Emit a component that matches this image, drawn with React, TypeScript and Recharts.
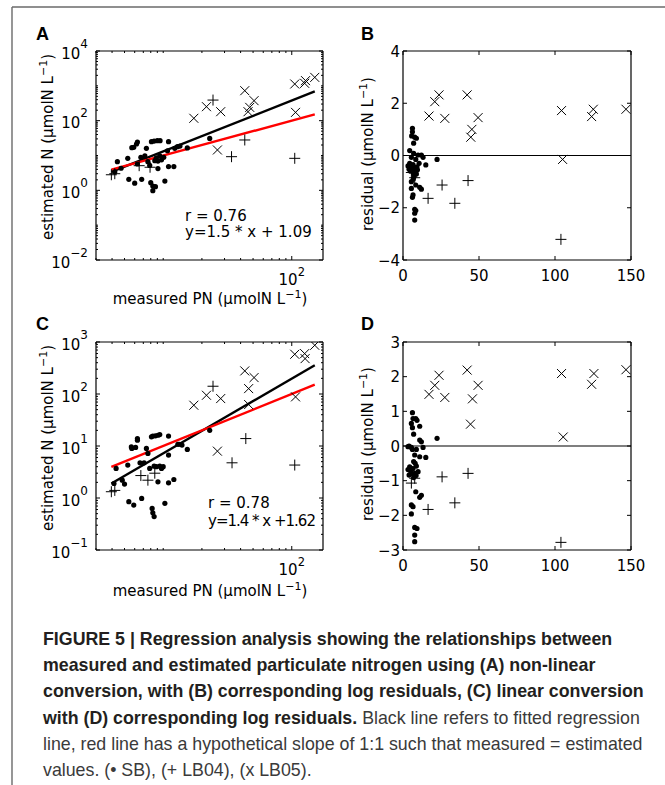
import React from 'react'
import { ReferenceLine, Scatter, ScatterChart, XAxis, YAxis } from 'recharts'

type Pt = [number, number]

// A: measured PN vs estimated N, non-linear conversion (log-log)
const aSB: Pt[] = [
  [6.3, 24.4], [6.2, 21.4], [8.1, 25], [8.5, 26], [9.0, 26.7], [9.45, 26.7], [11.0, 25],
  [5.7, 16.8], [5.9, 17.2], [7.4, 16.1], [12.3, 16.1], [12.9, 17.9], [13.5, 18.7], [15.4, 16.5],
  [23.0, 31], [10.8, 13.7], [7.2, 9.7], [6.7, 8.85], [5.3, 8.3], [4.4, 6.65], [8.85, 8.6],
  [9.4, 9.7], [10.1, 8.85], [8.6, 7.1], [9.1, 6.9], [9.7, 7.5], [7.6, 6.65], [6.3, 5.7],
  [7.85, 5.2], [9.1, 4.2], [11.0, 4.8], [12.1, 4.8], [4.7, 4.3], [4.2, 3.4], [5.4, 2.07],
  [6.0, 1.6], [6.8, 2.07], [8.0, 1.66], [8.3, 1.33], [8.7, 1.27], [8.3, 0.98], [10.3, 1.85],
]
const aLB04: Pt[] = [
  [3.95, 2.8], [4.2, 3.0], [6.5, 5.1], [7.9, 4.6], [24.4, 390], [34.0, 9.25], [43.1, 27.9], [105.5, 8.3],
]
const aLB05: Pt[] = [
  [17.3, 117], [21.7, 252], [28.0, 181], [26.4, 14.4], [43.1, 726], [45.7, 181], [47.1, 241],
  [50.9, 375], [105.5, 1130], [107, 173], [126, 1180], [128, 1410], [151, 1750],
]
const aFit: Pt[] = [[3.95, 3.4], [151, 690]]
const aUnity: Pt[] = [[3.95, 3.95], [151, 151]]

// B: residuals of A
const bSB: Pt[] = [
  [6.2, 1.04], [6.2, 0.91], [5.7, 0.75], [7.7, 0.7], [8.8, 0.66], [7.0, 0.47], [4.4, 0.19],
  [7.0, 0.08], [9.9, 0.02], [12.1, 0.02], [13.2, -0.07], [5.5, -0.07], [8.4, -0.15], [22.4, -0.15],
  [10.6, -0.3], [15.0, -0.36], [3.3, -0.4], [4.9, -0.43], [7.7, -0.45], [9.2, -0.43], [4.0, -0.53],
  [6.2, -0.56], [8.4, -0.62], [7.0, -0.71], [8.8, -0.71], [5.5, -1.0], [8.4, -1.13], [11.0, -1.22],
  [12.1, -1.29], [5.5, -1.26], [6.6, -1.51], [6.2, -1.6], [7.7, -2.06], [8.4, -2.11], [7.7, -2.21],
  [7.7, -2.47], [4.4, -0.3], [6.6, -0.35], [7.3, -0.8], [5.0, -0.6], [9.5, -0.55], [6.8, -0.9],
]
const bLB04: Pt[] = [
  [5.5, -0.65], [7.7, -0.85], [16.5, -1.64], [25.7, -1.13], [34.1, -1.83], [42.8, -0.96], [103.9, -3.21],
]
const bLB05: Pt[] = [
  [17.1, 1.51], [20.9, 2.06], [23.7, 2.32], [27.5, 1.42], [42.2, 2.32], [44.6, 0.7], [45.3, 1.0],
  [49.4, 1.45], [104.3, 1.72], [105, -0.15], [124.1, 1.49], [125.2, 1.77], [146.7, 1.77],
]

// C: measured PN vs estimated N, linear conversion (log-log)
const cSB: Pt[] = [
  [4.14, 1.9], [4.3, 3.7], [4.8, 2.2], [5.0, 1.85], [5.3, 4.3], [5.4, 0.85], [5.65, 9.6], [5.7, 9.0],
  [5.9, 0.73], [6.1, 9.4], [6.3, 13.9], [6.3, 12.9], [6.6, 4.75], [6.8, 0.98], [7.1, 4.75], [7.4, 9.0],
  [7.6, 7.2], [7.85, 3.7], [8.1, 15.0], [8.3, 15.5], [8.7, 15.7], [9.1, 16.1], [9.4, 16.6], [8.2, 0.63],
  [8.3, 0.52], [8.5, 0.44], [8.5, 4.1], [8.85, 4.0], [9.1, 2.05], [9.4, 4.1], [9.7, 3.7], [10.0, 4.0],
  [10.3, 0.79], [11.0, 1.96], [11.0, 6.7], [11.0, 15.5], [12.1, 2.27], [13.0, 10.8], [13.3, 10.8],
  [14.0, 10.4], [15.4, 8.6], [23.0, 20],
]
const cLB04: Pt[] = [
  [3.95, 1.32], [4.2, 1.4], [6.7, 2.7], [7.6, 2.2], [8.6, 3.0], [24.4, 141], [34.3, 4.75], [43.9, 13.9], [105.5, 4.3],
]
const cLB05: Pt[] = [
  [17.3, 60.8], [21.7, 94.6], [28.0, 81.7], [26.4, 7.96], [43.1, 278], [46.2, 127], [46.2, 62.7],
  [50.9, 207], [105.5, 581], [107, 88], [126, 598], [127, 479], [151, 865],
]
const cFit: Pt[] = [[3.95, 1.9], [151, 357]]
const cUnity: Pt[] = [[3.95, 3.95], [151, 151]]

// D: residuals of C
const dSB: Pt[] = [
  [6.2, 0.96], [6.6, 0.79], [8.4, 0.79], [9.2, 0.74], [5.5, 0.65], [6.2, 0.53], [11.0, 0.57],
  [7.0, 0.34], [22.4, 0.22], [4.0, 0.0], [5.5, -0.04], [6.2, -0.1], [11.0, 0.17], [12.1, 0.12],
  [13.2, -0.04], [8.8, -0.1], [7.7, -0.26], [11.0, -0.31], [15.0, -0.33], [4.4, -0.6], [3.3, -0.68],
  [5.5, -0.65], [6.6, -0.65], [8.8, -0.58], [7.7, -0.79], [9.9, -0.74], [7.0, -0.91], [4.0, -0.84],
  [8.4, -1.32], [12.1, -1.42], [11.0, -1.48], [5.5, -1.7], [6.6, -1.75], [5.5, -1.96], [7.7, -2.35],
  [9.2, -2.38], [7.7, -2.57], [7.7, -2.76], [3.3, -0.02], [7.0, -0.45], [8.0, -0.5], [6.0, -0.8],
  [8.6, -0.85], [5.0, -0.72],
]
const dLB04: Pt[] = [
  [5.5, -1.07], [7.7, -0.93], [16.5, -1.83], [25.7, -0.89], [34.1, -1.64], [42.8, -0.79], [103.9, -2.78],
]
const dLB05: Pt[] = [
  [17.1, 1.49], [20.9, 1.75], [23.7, 2.04], [27.5, 1.4], [42.2, 2.19], [44.4, 0.63], [45.7, 1.36],
  [49.4, 1.75], [104.3, 2.09], [105.4, 0.26], [124.1, 1.78], [125.6, 2.09], [146.7, 2.2],
]

// axes
const logX: [number, number] = [3, 175]
const logXMajor = [100]
const aYDomain: [number, number] = [0.01, 10000]
const aYMajor = [0.01, 1, 100, 10000]
const cYDomain: [number, number] = [0.1, 1000]
const cYMajor = [0.1, 1, 10, 100, 1000]
const resX = [0, 50, 100, 150]
const bYTicks = [-4, -2, 0, 2, 4]
const dYTicks = [-3, -2, -1, 0, 1, 2, 3]

const FONT = '"DejaVu Sans", sans-serif'
const AXIS = { stroke: '#000', strokeWidth: 1.2 }

// every n*10^k inside the domain, for the log axis minor ticks
const logTicks = ([lo, hi]: [number, number]) => {
  const out: number[] = []
  for (let k = Math.floor(Math.log10(lo)); k <= Math.ceil(Math.log10(hi)); k++)
    for (let n = 1; n < 10; n++) {
      const v = +(n * Math.pow(10, k)).toPrecision(6)
      if (v >= lo && v <= hi) out.push(v)
    }
  return out
}

const pts = (d: Pt[]) => d.map(([x, y]) => ({ x, y }))
const minus = (v: number) => (v < 0 ? `\u2212${-v}` : `${v}`)
const isMajor = (v: number, majors: number[]) => majors.some((m) => Math.abs(m - v) <= 1e-9 * Math.max(1, Math.abs(m)))

type TickProps = { x?: number; y?: number; payload?: { value: number }; span?: number; majors?: number[]; log?: boolean }

const BottomTick = ({ x = 0, y = 0, payload, span = 0, majors = [], log }: TickProps) => {
  const v = payload ? payload.value : 0
  const major = isMajor(v, majors)
  const len = major ? 4 : 2
  return (
    <g>
      <line x1={x} x2={x} y1={y} y2={y - len} stroke="#000" />
      <line x1={x} x2={x} y1={y - span} y2={y - span + len} stroke="#000" />
      {major && log && (
        <text x={x} y={y + 25} textAnchor="middle" fontSize={15} fontFamily={FONT} fill="#000">
          10<tspan dy={-9} fontSize={11.5}>{minus(Math.round(Math.log10(v)))}</tspan>
        </text>
      )}
      {major && !log && (
        <text x={x} y={y + 21} textAnchor="middle" fontSize={15} fontFamily={FONT} fill="#000">
          {minus(v)}
        </text>
      )}
    </g>
  )
}

const LeftTick = ({ x = 0, y = 0, payload, span = 0, majors = [], log }: TickProps) => {
  const v = payload ? payload.value : 0
  const major = isMajor(v, majors)
  const len = major ? 4 : 2
  return (
    <g>
      <line x1={x} x2={x + len} y1={y} y2={y} stroke="#000" />
      <line x1={x + span} x2={x + span - len} y1={y} y2={y} stroke="#000" />
      {major && log && (
        <text x={x - 8} y={y + 7.5} textAnchor="end" fontSize={15} fontFamily={FONT} fill="#000">
          10<tspan dy={-11} fontSize={12}>{minus(Math.round(Math.log10(v)))}</tspan>
        </text>
      )}
      {major && !log && (
        <text x={x - 3} y={y + 5.5} textAnchor="end" fontSize={15} fontFamily={FONT} fill="#000">
          {minus(v)}
        </text>
      )}
    </g>
  )
}

const Dot = (p: any) => <circle cx={p.cx} cy={p.cy} r={2.6} fill="#000" />
const Plus = (p: any) => (
  <path d={`M${p.cx - 5.5},${p.cy}h11M${p.cx},${p.cy - 5.5}v11`} stroke="#000" strokeWidth={1} fill="none" />
)
const Cross = (p: any) => (
  <path d={`M${p.cx - 4.5},${p.cy - 4.5}l9,9M${p.cx - 4.5},${p.cy + 4.5}l9,-9`} stroke="#000" strokeWidth={1} fill="none" />
)

type LogProps = {
  top: number; chartH: number; plotTop: number; plotH: number
  yDomain: [number, number]; yMajor: number[]
  sb: Pt[]; lb04: Pt[]; lb05: Pt[]; fit: Pt[]; unity: Pt[]
}

const LogPanel = ({ top, chartH, plotTop, plotH, yDomain, yMajor, sb, lb04, lb05, fit, unity }: LogProps) => {
  const plotW = 227
  return (
    <div style={{ position: 'absolute', left: 0, top }}>
      <ScatterChart width={340} height={chartH} margin={{ top: plotTop, right: 17, bottom: chartH - plotTop - plotH - 30, left: 36 }}>
        <XAxis type="number" dataKey="x" scale="log" domain={logX} allowDataOverflow ticks={logTicks(logX)} interval={0}
          tickSize={0} tickMargin={0} tickLine={false} axisLine={AXIS} height={30}
          tick={<BottomTick span={plotH} majors={logXMajor} log />} />
        <YAxis type="number" dataKey="y" scale="log" domain={yDomain} allowDataOverflow ticks={logTicks(yDomain)} interval={0}
          tickSize={0} tickMargin={0} tickLine={false} axisLine={AXIS} width={60}
          tick={<LeftTick span={plotW} majors={yMajor} log />} />
        <ReferenceLine y={yDomain[1]} stroke="#000" strokeWidth={1.2} />
        <ReferenceLine x={logX[1]} stroke="#000" strokeWidth={1.2} />
        <Scatter data={pts(sb)} shape={Dot} isAnimationActive={false} />
        <Scatter data={pts(lb04)} shape={Plus} isAnimationActive={false} />
        <Scatter data={pts(lb05)} shape={Cross} isAnimationActive={false} />
        <ReferenceLine segment={pts(fit)} stroke="#000" strokeWidth={2.4} />
        <ReferenceLine segment={pts(unity)} stroke="#ff0000" strokeWidth={2.4} />
      </ScatterChart>
    </div>
  )
}

type ResProps = {
  top: number; chartH: number; plotTop: number; plotH: number
  yTicks: number[]; sb: Pt[]; lb04: Pt[]; lb05: Pt[]
}

const ResidualPanel = ({ top, chartH, plotTop, plotH, yTicks, sb, lb04, lb05 }: ResProps) => {
  const plotW = 228
  const yDomain: [number, number] = [yTicks[0], yTicks[yTicks.length - 1]]
  return (
    <div style={{ position: 'absolute', left: 340, top }}>
      <ScatterChart width={325} height={chartH} margin={{ top: plotTop, right: 34, bottom: chartH - plotTop - plotH - 30, left: 3 }}>
        <XAxis type="number" dataKey="x" domain={[0, 150]} allowDataOverflow ticks={resX} interval={0}
          tickSize={0} tickMargin={0} tickLine={false} axisLine={AXIS} height={30}
          tick={<BottomTick span={plotH} majors={resX} />} />
        <YAxis type="number" dataKey="y" domain={yDomain} allowDataOverflow ticks={yTicks} interval={0}
          tickSize={0} tickMargin={0} tickLine={false} axisLine={AXIS} width={60}
          tick={<LeftTick span={plotW} majors={yTicks} />} />
        <ReferenceLine y={yDomain[1]} stroke="#000" strokeWidth={1.2} />
        <ReferenceLine x={150} stroke="#000" strokeWidth={1.2} />
        <ReferenceLine y={0} stroke="#000" strokeWidth={1.1} />
        <Scatter data={pts(sb)} shape={Dot} isAnimationActive={false} />
        <Scatter data={pts(lb04)} shape={Plus} isAnimationActive={false} />
        <Scatter data={pts(lb05)} shape={Cross} isAnimationActive={false} />
      </ScatterChart>
    </div>
  )
}

const Unit = () => (
  <>
    {' (µmolN L'}
    <tspan dy={-6} fontSize={11}>{'\u22121'}</tspan>
    <tspan dy={6}>)</tspan>
  </>
)

const Letter = ({ x, y, c }: { x: number; y: number; c: string }) => (
  <text x={x} y={y} fontFamily='"Liberation Sans", Arial, sans-serif' fontWeight="bold" fontSize={18} fill="#000">{c}</text>
)

const Overlay = () => (
  <svg width={665} height={785} style={{ position: 'absolute', left: 0, top: 0, pointerEvents: 'none' }}>
    <line x1={12} y1={7} x2={665} y2={7} stroke="#6a6a6a" strokeWidth={1.4} />
    <line x1={12} y1={7} x2={12} y2={785} stroke="#6a6a6a" strokeWidth={1.4} />
    <Letter x={36} y={39.5} c="A" />
    <Letter x={361} y={39.5} c="B" />
    <Letter x={36} y={330} c="C" />
    <Letter x={361} y={330} c="D" />
    <g fontFamily={FONT} fontSize={15} fill="#000">
      <text transform="translate(53,147) rotate(-90)" textAnchor="middle">estimated N<Unit /></text>
      <text x={210} y={304} textAnchor="middle">measured PN<Unit /></text>
      <text transform="translate(373,154) rotate(-90)" textAnchor="middle">residual<Unit /></text>
      <text transform="translate(53,438) rotate(-90)" textAnchor="middle">estimated N<Unit /></text>
      <text x={210} y={596} textAnchor="middle">measured PN<Unit /></text>
      <text transform="translate(373,444) rotate(-90)" textAnchor="middle">residual<Unit /></text>
      <text x={185} y={220.5}>r = 0.76</text>
      <text x={185} y={237}>y=1.5 * x + 1.09</text>
      <text x={208} y={508}>r = 0.78</text>
      <text x={208} y={526} letterSpacing={-1}>y=1.4 * x +1.62</text>
    </g>
  </svg>
)

const Caption = () => (
  <div style={{
    position: 'absolute', left: 43, top: 626, fontFamily: '"Liberation Sans", Arial, sans-serif',
    fontSize: 17.8, lineHeight: '26.2px', color: '#231f20', whiteSpace: 'nowrap',
  }}>
    <div style={{ fontWeight: 'bold' }}>FIGURE 5 | Regression analysis showing the relationships between</div>
    <div style={{ fontWeight: 'bold' }}>measured and estimated particulate nitrogen using (A) non-linear</div>
    <div style={{ fontWeight: 'bold' }}>conversion, with (B) corresponding log residuals, (C) linear conversion</div>
    <div><b>with (D) corresponding log residuals.</b> <span style={{ color: '#3a3a3a' }}>Black line refers to fitted regression</span></div>
    <div style={{ color: '#3a3a3a' }}>line, red line has a hypothetical slope of 1:1 such that measured = estimated</div>
    <div style={{ color: '#3a3a3a' }}>values. (• SB), (+ LB04), (x LB05).</div>
  </div>
)

export default function App() {
  return (
    <div style={{ position: 'absolute', left: 0, top: 0, width: 665, height: 785, background: '#fff', overflow: 'hidden' }}>
      <LogPanel top={0} chartH={315} plotTop={51} plotH={209} yDomain={aYDomain} yMajor={aYMajor}
        sb={aSB} lb04={aLB04} lb05={aLB05} fit={aFit} unity={aUnity} />
      <ResidualPanel top={0} chartH={315} plotTop={51} plotH={209} yTicks={bYTicks} sb={bSB} lb04={bLB04} lb05={bLB05} />
      <LogPanel top={310} chartH={305} plotTop={32} plotH={208} yDomain={cYDomain} yMajor={cYMajor}
        sb={cSB} lb04={cLB04} lb05={cLB05} fit={cFit} unity={cUnity} />
      <ResidualPanel top={310} chartH={305} plotTop={32} plotH={208} yTicks={dYTicks} sb={dSB} lb04={dLB04} lb05={dLB05} />
      <Overlay />
      <Caption />
    </div>
  )
}
